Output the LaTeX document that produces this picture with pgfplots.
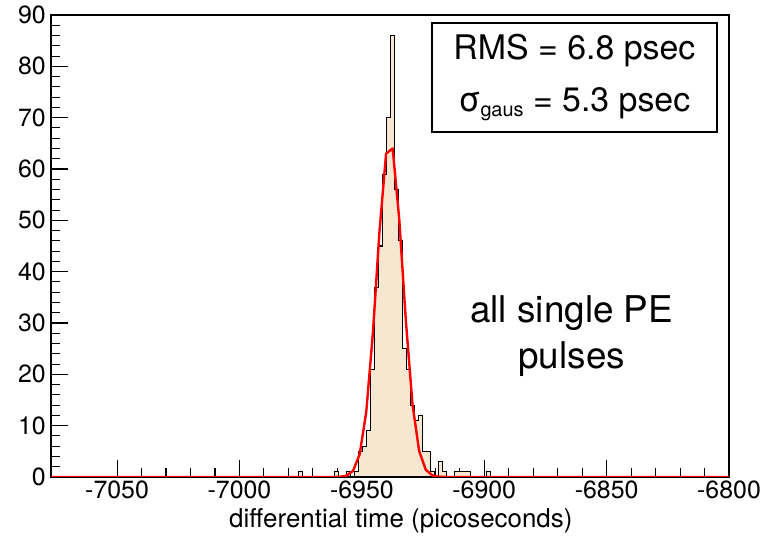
\documentclass[border=0pt]{standalone}
\usepackage{fontspec}
\setmainfont{TeX Gyre Heros}
\usepackage{pgfplots}
\pgfplotsset{compat=1.18}
\definecolor{histfill}{RGB}{248,231,208}
\begin{document}
\begin{tikzpicture}
\path[use as bounding box] (0,0) rectangle (777bp,542bp);
\begin{axis}[
  at={(51bp,65bp)}, anchor=south west,
  scale only axis, width=678bp, height=462bp,
  xmin=-7077, xmax=-6800, ymin=0, ymax=90,
  xtick={-7050,-7000,...,-6800}, ytick={0,10,...,90},
  minor x tick num=4, minor y tick num=4,
  xtick pos=left, ytick pos=left, tick align=inside,
  major tick length=17bp, minor tick length=8.5bp,
  scaled x ticks=false,
  /pgf/number format/1000 sep={},
  /pgf/number format/assume math mode=true,
  tick label style={font=\fontsize{25}{25}\selectfont},
  yticklabel style={inner xsep=0pt, xshift=-5bp},
  axis line style={line width=1.4bp},
  every tick/.style={black, line width=1.1bp},
  xlabel={differential time (picoseconds)},
  xlabel style={font=\fontsize{26}{26}\selectfont, at={(axis description cs:0.516,0)}, anchor=north, yshift=-31bp, inner sep=0pt},
]
\addplot[const plot mark left, draw=black, line width=1.1bp, fill=histfill] coordinates {
(-7077,0)
(-6976.0,1) (-6974.4,0)
(-6961.3,1) (-6959.7,0)
(-6956.4,1) (-6954.8,0)
(-6953.1,1) (-6951.5,5) (-6949.8,6) (-6948.2,9) (-6946.6,21) (-6944.9,37) (-6943.3,45)
(-6941.7,59) (-6940.0,70) (-6938.4,86) (-6936.8,56) (-6935.1,46) (-6933.5,25) (-6931.9,21)
(-6930.2,14) (-6928.6,11) (-6927.0,12) (-6925.3,5) (-6923.7,5) (-6922.1,1) (-6920.4,0)
(-6918.8,3) (-6917.2,1) (-6915.5,0)
(-6912.3,1) (-6910.6,1) (-6909.0,1) (-6907.4,1) (-6905.7,0)
(-6899.2,1) (-6897.6,0)
(-6800,0)
} \closedcycle;
\addplot[red, line width=2.4bp, line join=round] coordinates {
(-7077,0) (-6964.4,0) (-6961.7,0.005) (-6959.0,0.04) (-6956.3,0.25) (-6953.6,1.19)
(-6950.9,4.42) (-6948.2,12.67) (-6945.5,28.0) (-6942.8,47.85) (-6940.1,63.0)
(-6937.4,64.0) (-6934.7,50.1) (-6932.0,30.3) (-6929.3,14.1) (-6926.6,5.08)
(-6923.9,1.41) (-6921.2,0.30) (-6918.5,0.05) (-6915.8,0.006) (-6913.1,0) (-6800,0)
};
\node[draw=black, line width=2.2bp, fill=white, minimum width=285bp, minimum height=109bp,
  align=center, inner sep=0pt, font=\fontsize{34}{52}\selectfont]
  at (rel axis cs:0.772,0.865)
  {RMS = 6.8 psec\\σ{\fontsize{20}{20}\selectfont\raisebox{-5bp}{gaus}} = 5.3 psec};
\node[align=center, inner sep=0pt, font=\fontsize{37}{46}\selectfont]
  at (rel axis cs:0.768,0.305) {all single PE\\pulses};
\end{axis}
\end{tikzpicture}
\end{document}
